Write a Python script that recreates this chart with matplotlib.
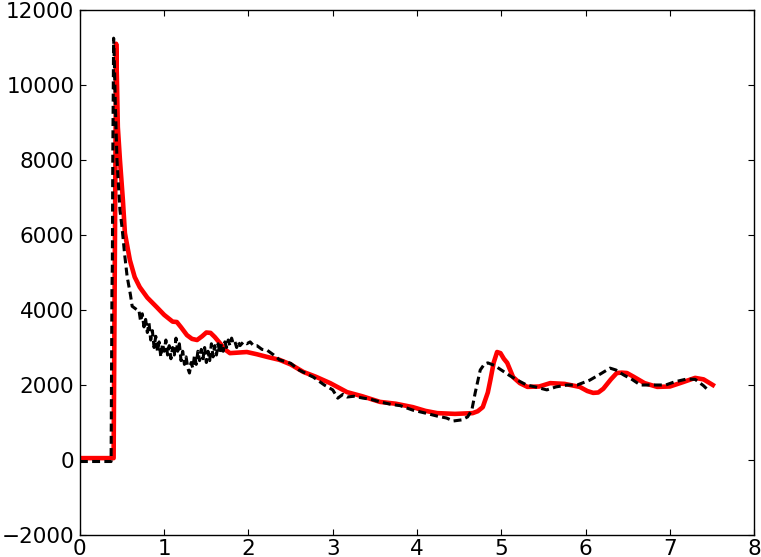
import matplotlib
matplotlib.use("Agg")
import matplotlib.pyplot as plt

# Red (model) series
red_x = [0.0, 0.40, 0.43, 0.44, 0.45, 0.475, 0.51, 0.534, 0.593, 0.65, 0.71, 0.80, 0.91,
         1.00, 1.10, 1.15, 1.20, 1.27, 1.33, 1.39, 1.45, 1.50, 1.55, 1.60, 1.66, 1.72,
         1.78, 1.85, 1.98, 2.10, 2.22, 2.37, 2.50, 2.65, 2.80, 2.97, 3.17, 3.35, 3.56,
         3.75, 3.95, 4.10, 4.24, 4.45, 4.66, 4.72, 4.78, 4.84, 4.87, 4.91, 4.95, 4.99,
         5.03, 5.07, 5.14, 5.22, 5.31, 5.45, 5.58, 5.75, 5.93, 6.02, 6.09, 6.15, 6.21,
         6.30, 6.37, 6.43, 6.49, 6.57, 6.70, 6.85, 7.00, 7.16, 7.30, 7.40, 7.51]
red_y = [50, 50, 11100, 10050, 8880, 8000, 6930, 6050, 5330, 4880, 4610, 4330, 4080,
         3870, 3690, 3680, 3540, 3330, 3230, 3200, 3300, 3400, 3390, 3280, 3120, 2950,
         2850, 2860, 2880, 2820, 2750, 2670, 2550, 2350, 2220, 2050, 1810, 1700, 1550,
         1500, 1410, 1310, 1250, 1230, 1250, 1300, 1410, 1800, 2130, 2600, 2880, 2850,
         2700, 2590, 2210, 2050, 1950, 1960, 2050, 2030, 1950, 1840, 1790, 1800, 1900,
         2150, 2320, 2330, 2320, 2220, 2050, 1950, 1960, 2080, 2190, 2150, 2000]

# Black (measured) series
blk_x = [0.0, 0.37, 0.38, 0.385, 0.39, 0.40, 0.41, 0.42, 0.44, 0.475, 0.50, 0.53, 0.56,
         0.60, 0.62, 0.65, 0.68, 0.70, 0.72, 0.74, 0.76, 0.78, 0.80, 0.82, 0.84, 0.86,
         0.88, 0.90, 0.92, 0.94, 0.96, 0.98, 1.00, 1.02, 1.04, 1.06, 1.08, 1.10, 1.12,
         1.14, 1.16, 1.18, 1.20, 1.22, 1.24, 1.26, 1.28, 1.30, 1.32, 1.34, 1.36, 1.38,
         1.40, 1.42, 1.44, 1.46, 1.48, 1.50, 1.52, 1.54, 1.56, 1.58, 1.60, 1.62, 1.64,
         1.66, 1.68, 1.70, 1.72, 1.74, 1.76, 1.78, 1.80, 1.82, 1.84, 1.86, 1.88, 1.90,
         1.94, 1.98, 2.02, 2.06, 2.10, 2.16, 2.22, 2.30, 2.37, 2.50, 2.60, 2.77, 2.90,
         3.00, 3.06, 3.12, 3.17, 3.25, 3.36, 3.45, 3.56, 3.70, 3.80, 3.95, 4.10, 4.24,
         4.35, 4.43, 4.53, 4.60, 4.65, 4.69, 4.75, 4.80, 4.84, 4.92, 5.00, 5.10, 5.19,
         5.30, 5.40, 5.54, 5.65, 5.78, 5.90, 6.05, 6.18, 6.29, 6.36, 6.45, 6.55, 6.65,
         6.80, 6.95, 7.05, 7.20, 7.30, 7.40, 7.45]
blk_y = [-40, -40, 4500, 5200, 8000, 11250, 10500, 9500, 8000, 6670, 6200, 5500, 4900,
         4400, 4100, 4050, 4000, 4000, 3700, 3900, 3550, 3750, 3400, 3650, 3200, 3450,
         3000, 3300, 2900, 3150, 2750, 3100, 2900, 3200, 2800, 3050, 2700, 3000, 2800,
         3250, 2900, 3100, 2650, 2900, 2550, 2750, 2450, 2320, 2600, 2450, 2800, 2550,
         2900, 2650, 2950, 2700, 3000, 2600, 2900, 2650, 3100, 2750, 3050, 2800, 3100,
         2850, 3100, 2900, 3150, 3000, 3200, 3050, 3250, 3100, 3150, 3000, 3150, 3050,
         3150, 3100, 3150, 3050, 3050, 2950, 2930, 2800, 2670, 2580, 2400, 2210, 2000,
         1870, 1650, 1750, 1680, 1700, 1650, 1620, 1550, 1480, 1450, 1330, 1250, 1170,
         1120, 1040, 1070, 1150, 1330, 1790, 2400, 2560, 2590, 2520, 2400, 2250, 2130,
         2000, 1950, 1870, 1950, 2000, 2000, 2130, 2300, 2450, 2400, 2270, 2150, 2000,
         2000, 2000, 2080, 2160, 2150, 1980, 1870]

x_ticks = [0, 1, 2, 3, 4, 5, 6, 7, 8]
y_ticks = [-2000, 0, 2000, 4000, 6000, 8000, 10000, 12000]

plt.rcParams['font.family'] = ['DejaVu Sans']
fig = plt.figure(figsize=(7.61, 5.57), dpi=100)
ax = fig.add_axes([0.105, 0.0395, 0.886, 0.9425])

ax.plot(red_x, red_y, color='red', lw=3.3, solid_joinstyle='round', zorder=2)
ax.plot(blk_x, blk_y, color='black', lw=2.2, ls=(0, (2.6, 1.4)), zorder=3)

ax.set_xlim(0, 8)
ax.set_ylim(-2000, 12000)
ax.set_xticks(x_ticks)
ax.set_yticks(y_ticks)
ax.tick_params(direction='in', length=4, width=0.8, top=True, right=True,
               labelsize=15.5, pad=4)
ax.tick_params(axis='x', pad=3)
for s in ax.spines.values():
    s.set_linewidth(1.0)

fig.savefig('out.png', dpi=100)
